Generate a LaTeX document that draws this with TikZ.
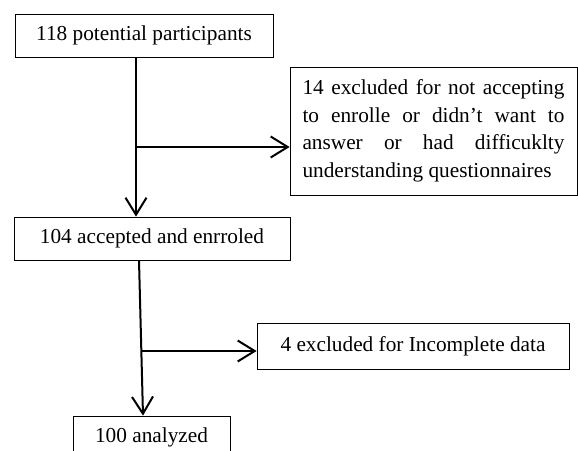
\documentclass[tikz,border=0pt]{standalone}
\usepackage{fontspec}
\setmainfont{Liberation Serif}
\usetikzlibrary{arrows.meta,calc}
\newcommand{\boxfont}{\fontsize{21.3}{27.5}\selectfont\hyphenpenalty=10000\relax\tolerance=9999\relax}

\begin{document}
\begin{tikzpicture}[x=1pt,y=-1pt,
  box/.style={draw, line width=0.8pt, inner sep=0pt, font=\boxfont},
  arr/.style={-{Straight Barb[length=17pt,width=21pt]}, line width=2pt}
]
\clip (0,0) rectangle (578,450);

\node[box, minimum width=258pt, minimum height=43pt] (pot) at (144,35.5) {118 potential participants};
\node[box, minimum width=287pt, minimum height=128pt, text width=262pt, align=justify] (excl) at (433.5,131)
  {14 excluded for not accepting to enrolle or didn’t want to answer or had difficuklty understanding questionnaires};
\node[box, minimum width=276pt, minimum height=43pt] (acc) at (152,238.5) {104 accepted and enrroled};
\node[box, minimum width=312pt, minimum height=46pt] (inc) at (413,346) {4 excluded for Incomplete data};
\node[box, minimum width=157pt, minimum height=43pt] (ana) at (151.5,437.5) {100 analyzed};

\coordinate (j1) at (136,147);
\coordinate (j2) at (141,351);

\draw[arr] ([xshift=-8pt]pot.south) -- ([xshift=-8pt]pot.south |- acc.north);
\draw[arr] (j1) -- (j1 -| excl.west);
\draw[arr] ([xshift=-13pt]acc.south) -- ([xshift=-8.5pt]ana.north);
\draw[arr] (j2) -- (j2 -| inc.west);

\end{tikzpicture}
\end{document}
